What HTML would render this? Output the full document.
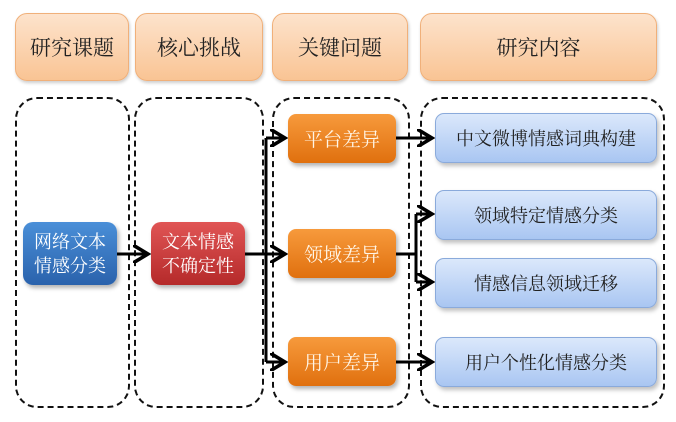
<!DOCTYPE html>
<html><head><meta charset="utf-8"><style>
body{margin:0;width:676px;height:422px;background:#fff;position:relative;overflow:hidden;font-family:"Liberation Serif","Noto Serif CJK SC",serif}
.b{position:absolute;display:flex;align-items:center;justify-content:center;text-align:center;box-sizing:border-box}
.h{top:13px;height:68px;border-radius:12px;background:linear-gradient(#fde3cc,#f9c494);border:1px solid #f0b07a;font-size:21px;color:#222;box-shadow:1px 2px 3px rgba(0,0,0,.2)}
.d{position:absolute;top:97px;height:311px;border:2px dashed #111;border-radius:22px;box-sizing:border-box}
.o{left:288px;width:108px;height:49px;border-radius:8px;background:linear-gradient(#f79a3c,#e0700e);color:#fff5e6;font-size:19px;box-shadow:2px 3px 4px rgba(0,0,0,.3)}
.l{left:435px;width:222px;height:50px;border-radius:9px;background:linear-gradient(#dbe8fb,#a9c6f2);border:1px solid #8aaadb;color:#222;font-size:18px;box-shadow:2px 3px 4px rgba(0,0,0,.25)}
svg{position:absolute;left:0;top:0}
</style></head><body>
<div class="b h" style="left:15px;width:114px">研究课题</div>
<div class="b h" style="left:135px;width:128px">核心挑战</div>
<div class="b h" style="left:272px;width:136px">关键问题</div>
<div class="b h" style="left:420px;width:237px">研究内容</div>
<div class="d" style="left:15px;width:115px"></div>
<div class="d" style="left:134px;width:130px"></div>
<div class="d" style="left:272px;width:138px"></div>
<div class="d" style="left:420px;width:245px"></div>
<div class="b" style="left:23px;top:222px;width:94px;height:63px;border-radius:10px;background:linear-gradient(#4a8fd8,#2a62ac);color:#fff;font-size:18px;line-height:24px;box-shadow:2px 3px 4px rgba(0,0,0,.3)">网络文本<br>情感分类</div>
<div class="b" style="left:151px;top:222px;width:94px;height:63px;border-radius:10px;background:linear-gradient(#e05555,#b52a2a);color:#fff;font-size:18px;line-height:24px;box-shadow:2px 3px 4px rgba(0,0,0,.3)">文本情感<br>不确定性</div>
<div class="b o" style="top:114px">平台差异</div>
<div class="b o" style="top:229px">领域差异</div>
<div class="b o" style="top:337px">用户差异</div>
<div class="b l" style="top:113px">中文微博情感词典构建</div>
<div class="b l" style="top:190px">领域特定情感分类</div>
<div class="b l" style="top:258px">情感信息领域迁移</div>
<div class="b l" style="top:337px">用户个性化情感分类</div>
<svg width="676" height="422" fill="none" stroke="#000" stroke-width="3">
<defs><marker id="a" markerWidth="6" markerHeight="6" refX="5" refY="3" orient="auto" markerUnits="strokeWidth"><path d="M0,0 L5,3 L0,6" fill="none" stroke="#000" stroke-width="1.2"/></marker></defs>
<path d="M117,254 H148" marker-end="url(#a)"/>
<path d="M245,254 H285" marker-end="url(#a)"/>
<path d="M266,362 V138"/>
<path d="M266,138 H285" marker-end="url(#a)"/>
<path d="M266,362 H285" marker-end="url(#a)"/>
<path d="M396,138 H432" marker-end="url(#a)"/>
<path d="M396,362 H432" marker-end="url(#a)"/>
<path d="M396,254 H416"/>
<path d="M416,214 V282"/>
<path d="M416,214 H432" marker-end="url(#a)"/>
<path d="M416,282 H432" marker-end="url(#a)"/>
</svg>
</body></html>
